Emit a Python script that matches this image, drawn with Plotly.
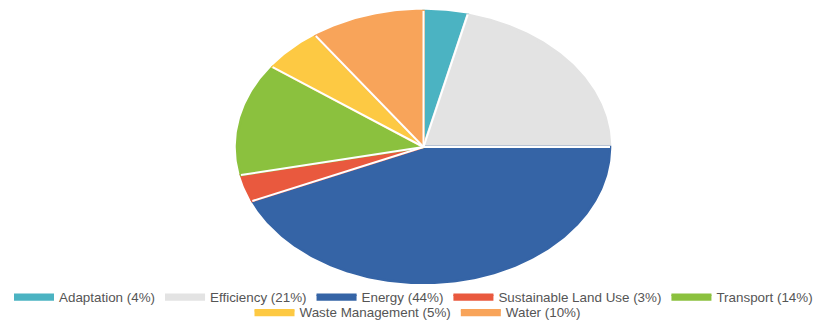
import numpy as np
import plotly.graph_objects as go

categories = ["Adaptation", "Efficiency", "Energy", "Sustainable Land Use",
              "Transport", "Waste Management", "Water"]
values = [3.8, 21.2, 43.5, 3.2, 13.3, 5.2, 9.8]
pct_labels = ["4%", "21%", "44%", "3%", "14%", "5%", "10%"]
colors = ["#4bb3c2", "#e3e3e3", "#3564a6", "#e9593e", "#8bc13e", "#fdc943", "#f8a45a"]
legend_rows = ["legend", "legend", "legend", "legend", "legend", "legend2", "legend2"]

W, H = 827, 320
off = 8                              # page body margin
cx, cy = 423.5 - off, 147.0 - off    # centre of the pie in figure pixels
rx, ry = 186.5, 136.0                # horizontal / vertical radius in pixels

fig = go.Figure()
total = sum(values)
cum = np.cumsum([0] + values) / total
for i, name in enumerate(categories):
    a0, a1 = cum[i] * 2 * np.pi, cum[i + 1] * 2 * np.pi
    t = np.linspace(a0, a1, max(int((a1 - a0) * 80), 4))
    xs = np.concatenate([[0], np.sin(t), [0]])
    ys = np.concatenate([[0], np.cos(t), [0]])
    fig.add_trace(go.Scatter(
        x=xs, y=ys, mode="lines", fill="toself", fillcolor=colors[i],
        line=dict(color=colors[i], width=2.5),
        name=f"{name} ({pct_labels[i]})", hoverinfo="name",
        legend=legend_rows[i],
    ))

# white separators between slices
sx, sy = [], []
for c in cum[:-1]:
    a = c * 2 * np.pi
    sx += [0, np.sin(a), None]
    sy += [0, np.cos(a), None]
fig.add_trace(go.Scatter(x=sx, y=sy, mode="lines", line=dict(color="white", width=2),
                         showlegend=False, hoverinfo="skip"))

legend_font = dict(family="Liberation Sans, Arial", size=13.4, color="#555555")
common = dict(orientation="h", xanchor="center", yanchor="middle",
              font=legend_font, itemwidth=40, bgcolor="rgba(0,0,0,0)")
fig.update_layout(
    width=W, height=H,
    margin=dict(l=0, r=0, t=0, b=0),
    paper_bgcolor="white", plot_bgcolor="white",
    xaxis=dict(visible=False, range=[-cx / rx, (W - cx) / rx], fixedrange=True),
    yaxis=dict(visible=False, range=[-(H - cy) / ry, cy / ry], fixedrange=True),
    legend=dict(x=(413.5 - off) / W, y=1 - (297 - off) / H, **common),
    legend2=dict(x=(417.5 - off) / W, y=1 - (312.5 - off) / H, **common),
    showlegend=True,
)
fig.write_html("out.html")
